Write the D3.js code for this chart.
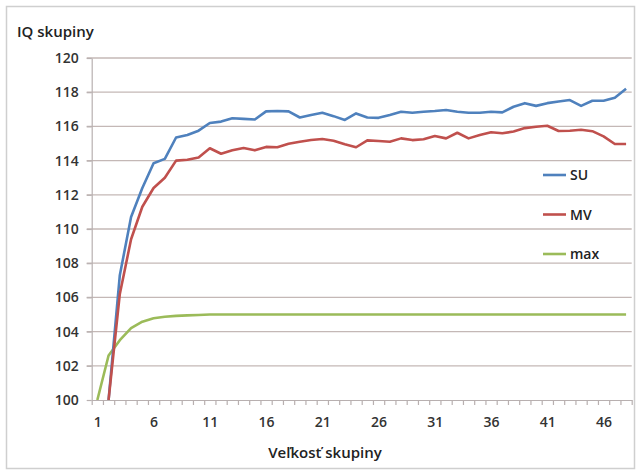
<!DOCTYPE html>
<html>
<head>
<meta charset="utf-8">
<script src="https://cdn.jsdelivr.net/npm/d3@7"></script>
<style>
  html, body { margin: 0; padding: 0; background: #fff; }
  svg { display: block; }
  text { font-family: "Open Sans", "DejaVu Sans", sans-serif; }
</style>
</head>
<body>
<svg id="chart" width="641" height="475"></svg>
<script>
// Group size (category axis)
const groupSizes = [1, 2, 3, 4, 5, 6, 7, 8, 9, 10, 11, 12, 13, 14, 15, 16, 17, 18, 19, 20,
  21, 22, 23, 24, 25, 26, 27, 28, 29, 30, 31, 32, 33, 34, 35, 36, 37, 38, 39, 40,
  41, 42, 43, 44, 45, 46, 47, 48];

// Group IQ per group size
const suValues = [null, 100.0, 107.3, 110.7, 112.4, 113.85, 114.1, 115.35, 115.5, 115.75,
  116.2, 116.28, 116.48, 116.44, 116.4, 116.88, 116.9, 116.88, 116.52, 116.67,
  116.8, 116.6, 116.38, 116.76, 116.52, 116.5, 116.67, 116.86, 116.8, 116.86,
  116.9, 116.96, 116.86, 116.8, 116.8, 116.86, 116.82, 117.15, 117.36, 117.2,
  117.36, 117.46, 117.54, 117.2, 117.5, 117.5, 117.68, 118.2];

const mvValues = [null, 100.0, 106.2, 109.4, 111.3, 112.4, 113.0, 114.0, 114.05, 114.18,
  114.72, 114.4, 114.6, 114.74, 114.6, 114.8, 114.78, 114.98, 115.1, 115.2,
  115.26, 115.16, 114.95, 114.78, 115.18, 115.15, 115.1, 115.3, 115.2, 115.25,
  115.44, 115.3, 115.63, 115.3, 115.5, 115.66, 115.6, 115.7, 115.9, 115.98,
  116.04, 115.73, 115.75, 115.8, 115.72, 115.42, 114.97, 114.97];

const maxValues = [100.0, 102.6, 103.5, 104.2, 104.58, 104.78, 104.87, 104.92, 104.95, 104.97,
  105, 105, 105, 105, 105, 105, 105, 105, 105, 105,
  105, 105, 105, 105, 105, 105, 105, 105, 105, 105,
  105, 105, 105, 105, 105, 105, 105, 105, 105, 105,
  105, 105, 105, 105, 105, 105, 105, 105];

const yTicks = [100, 102, 104, 106, 108, 110, 112, 114, 116, 118, 120];
const xTickLabels = [1, 6, 11, 16, 21, 26, 31, 36, 41, 46];

const seriesNames = ["SU", "MV", "max"];
const seriesColors = ["#4f81bd", "#c0504d", "#9bbb59"];

const svg = d3.select("#chart");

// chart frame
svg.append("rect")
  .attr("x", 6.5).attr("y", 6.5)
  .attr("width", 628).attr("height", 462)
  .attr("fill", "#fff")
  .attr("stroke", "#cfcfcf")
  .attr("stroke-width", 1.5);

const plot = { left: 91.7, right: 631.7, top: 58, bottom: 400 };

const x = d3.scaleLinear()
  .domain([0.5, groupSizes.length + 0.5])
  .range([plot.left, plot.right]);

const y = d3.scaleLinear()
  .domain([100, 120])
  .range([plot.bottom, plot.top]);

// horizontal gridlines
svg.append("g")
  .selectAll("line")
  .data(yTicks.filter(v => v !== 100))
  .join("line")
  .attr("x1", plot.left - 5).attr("x2", plot.right)
  .attr("y1", d => y(d)).attr("y2", d => y(d))
  .attr("stroke", "#c4b8b6")
  .attr("stroke-width", 1.3);

// y axis
const yAxis = svg.append("g")
  .attr("transform", `translate(${plot.left},0)`)
  .call(d3.axisLeft(y).tickValues(yTicks).tickSize(5).tickPadding(8).tickSizeOuter(0));
yAxis.select(".domain").attr("stroke", "#b8b0b0").attr("stroke-width", 1.2);
yAxis.selectAll(".tick line").attr("stroke", "#b8b0b0").attr("stroke-width", 1.2);
yAxis.selectAll(".tick text")
  .attr("font-size", 14)
  .attr("font-weight", 600)
  .attr("fill", "#333")
  .attr("font-family", "Open Sans, sans-serif");

// x axis: ticks between categories, labels on every fifth category
const boundaries = [0].concat(groupSizes).map(d => d + 0.5);
const xAxisG = svg.append("g").attr("transform", `translate(0,${plot.bottom})`);
xAxisG.call(d3.axisBottom(x).tickValues(boundaries).tickSize(5).tickFormat("").tickSizeOuter(0));
xAxisG.select(".domain").attr("stroke", "#b8b0b0").attr("stroke-width", 1.2);
xAxisG.selectAll(".tick line").attr("stroke", "#b8b0b0").attr("stroke-width", 1.2);

const xLabels = svg.append("g").attr("transform", `translate(0,${plot.bottom})`);
xLabels.call(d3.axisBottom(x).tickValues(xTickLabels).tickSize(0).tickPadding(17));
xLabels.select(".domain").remove();
xLabels.selectAll(".tick text")
  .attr("font-size", 14)
  .attr("font-weight", 600)
  .attr("fill", "#333")
  .attr("font-family", "Open Sans, sans-serif");

// lines
const seriesData = [suValues, mvValues, maxValues];
const line = d3.line()
  .defined(d => d.v !== null)
  .x(d => x(d.n))
  .y(d => y(d.v));

svg.append("defs").append("clipPath").attr("id", "plotClip")
  .append("rect")
  .attr("x", plot.left).attr("y", plot.top - 5)
  .attr("width", plot.right - plot.left).attr("height", plot.bottom - plot.top + 5);

const linesG = svg.append("g").attr("clip-path", "url(#plotClip)");
// draw max first, then SU, then MV on top
[2, 0, 1].forEach(i => {
  linesG.append("path")
    .datum(groupSizes.map((n, k) => ({ n, v: seriesData[i][k] })))
    .attr("fill", "none")
    .attr("stroke", seriesColors[i])
    .attr("stroke-width", 2.6)
    .attr("stroke-linejoin", "round")
    .attr("d", line);
});

// legend
const legend = svg.append("g");
const legendY = [175, 214.5, 254];
seriesNames.forEach((name, i) => {
  legend.append("line")
    .attr("x1", 543).attr("x2", 566)
    .attr("y1", legendY[i]).attr("y2", legendY[i])
    .attr("stroke", seriesColors[i])
    .attr("stroke-width", 2.6);
  legend.append("text")
    .attr("x", 570).attr("y", legendY[i] + 5)
    .attr("font-size", 14)
    .attr("font-weight", 600)
    .attr("fill", "#222")
    .text(name);
});

// axis titles
svg.append("text")
  .attr("x", 17).attr("y", 37)
  .attr("font-size", 15)
  .attr("font-weight", 600)
  .attr("fill", "#222")
  .text("IQ skupiny");

svg.append("text")
  .attr("x", 325).attr("y", 458)
  .attr("text-anchor", "middle")
  .attr("font-size", 15)
  .attr("font-weight", 600)
  .attr("fill", "#222")
  .text("Veľkosť skupiny");
</script>
</body>
</html>
